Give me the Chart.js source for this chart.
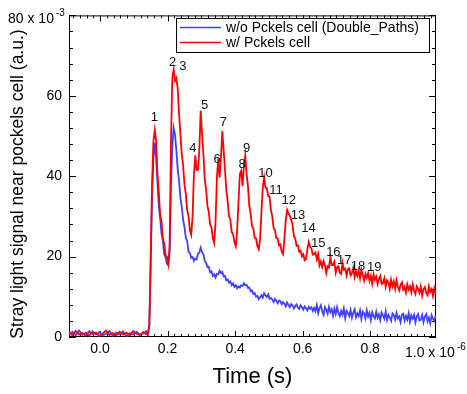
<!DOCTYPE html>
<html><head><meta charset="utf-8">
<script src="https://cdn.jsdelivr.net/npm/chart.js@4"></script>
<style>html,body{margin:0;padding:0;background:#fff}</style>
</head><body>
<canvas id="c" width="467" height="394" style="display:block"></canvas>
<script>
// ---- DATA (time in 1e-6 s, signal in 1e-3 a.u.) ----
const timeUs = [
  -0.092,-0.082,-0.072,-0.062,-0.052,-0.042,-0.032,-0.022,-0.012,-0.002,
  0.008,0.018,0.028,0.038,0.048,0.058,0.068,0.078,0.088,0.098,
  0.108,0.118,0.128,0.136,0.142,
  0.146,0.150,0.154,0.158,0.162,0.166,0.170,0.174,0.178,0.182,
  0.186,0.190,0.194,0.198,0.202,0.206,0.210,0.214,0.218,0.222,
  0.226,0.230,0.234,0.238,0.242,0.246,0.250,0.254,0.258,0.262,
  0.266,0.270,0.274,0.278,0.282,0.286,0.290,0.294,0.298,0.302,
  0.306,0.310,0.314,0.318,0.322,0.326,0.330,0.334,0.338,0.342,
  0.346,0.350,0.354,0.358,0.362,0.366,0.370,0.374,0.378,0.382,
  0.386,0.390,0.394,0.398,0.402,0.406,0.410,0.414,0.418,0.422,
  0.426,0.430,0.434,0.438,0.442,0.446,0.450,0.454,0.458,0.462,
  0.466,0.470,0.474,0.478,0.482,0.486,0.490,0.494,0.498,0.502,
  0.506,0.510,0.514,0.518,0.522,0.526,0.530,0.534,0.538,0.542,
  0.546,0.550,0.554,0.558,0.562,0.566,0.570,0.574,0.578,0.582,
  0.586,0.590,0.594,0.598,0.602,0.606,0.610,0.614,0.618,0.622,
  0.626,0.630,0.634,
  0.638,0.642,0.646,0.650,0.654,0.658,0.662,0.666,0.670,0.674,
  0.678,0.682,0.686,0.690,0.694,0.698,0.702,0.706,0.710,0.714,
  0.718,0.722,0.726,0.730,0.734,0.738,0.742,0.746,0.750,0.754,
  0.758,0.762,0.766,0.770,0.774,0.778,0.782,0.786,0.790,0.794,
  0.798,0.802,0.806,0.810,0.814,0.818,0.822,0.826,0.830,0.834,
  0.838,0.842,0.846,0.850,0.854,0.858,0.862,0.866,0.870,0.874,
  0.878,0.882,0.886,0.890,0.894,0.898,0.902,0.906,0.910,0.914,
  0.918,0.922,0.926,0.930,0.934,0.938,0.942,0.946,0.950,0.954,
  0.958,0.962,0.966,0.970,0.974,0.978,0.982,0.986,0.990,0.994
];
const withCell = [
  1.2,0.4,1.5,0.6,1.0,0.3,1.4,0.7,1.1,0.2,
  0.9,1.6,0.5,1.0,0.4,1.3,0.6,1.1,0.3,1.5,
  0.8,0.5,1.2,0.7,1.0,
  3,20,38,48.6,51.5,48.8,40.6,35.9,30.4,28.8,
  24.4,23.2,20.5,19.8,18.1,22.5,48,64.5,66.6,63.7,
  64.4,61.8,55.5,50.6,45.4,42.7,37.9,35.6,31.5,30.1,
  26.6,25.4,30,40.5,45.2,41.5,41.6,46.5,56.3,50.5,
  45.6,39.4,36.7,32.6,31.1,28,27.2,24.6,23.4,28.5,
  39.5,44.4,39.6,44.5,51.2,46.5,41.6,36.5,33.7,30,
  29.1,26.1,25.6,23.6,22.6,26.4,33.6,40.5,41.3,37.6,
  42.5,45.1,40.5,37.6,32.7,30.6,27.6,27,24.6,24.5,
  22.6,21.8,24.4,31,37.3,39.7,37.1,37,35.1,34.9,
  31.6,30,27.1,26.5,24.6,24.5,22.8,23,21.2,20.6,
  24.4,29,31.6,30.7,30.2,29.1,28,25.1,24.5,22.7,
  22.8,21.2,21.5,20.1,20.6,19.1,19.4,21.8,23.6,22.5,
  22,20.5,20.6,
  21.0,19.3,20.6,17.8,18.8,17.4,18.9,17.9,15.9,17.6,
  17.3,19.8,17.9,17.9,18.7,16.0,17.4,17.6,16.0,15.7,
  18.4,16.7,17.0,15.3,16.9,17.1,15.3,15.8,17.2,14.9,
  16.4,15.2,16.5,14.6,16.7,15.4,14.0,15.7,14.7,15.9,
  14.0,15.2,13.2,15.6,14.2,15.0,13.2,14.4,15.2,13.2,
  13.4,14.6,12.5,14.1,13.6,12.0,14.2,12.6,13.8,12.0,
  14.1,12.5,11.6,13.0,13.6,11.8,12.5,11.0,13.1,11.8,
  12.6,11.1,13.1,11.5,10.7,12.6,12.0,11.0,12.6,10.3,
  11.9,12.4,11.0,10.4,12.6,11.2,11.9,10.2,12.1,10.7
];
const withoutCell = [
  0.6,1.3,0.4,1.6,0.5,1.1,0.3,1.4,0.6,1.2,
  0.4,0.8,1.5,0.3,1.1,0.6,1.4,0.2,1.0,0.6,
  1.3,0.5,0.9,1.4,0.6,
  3,18,35,44.5,48.3,44.6,38.4,32.6,29.5,25.7,
  24,20.6,19.9,18.2,17.9,21,37,47.5,52,50.3,
  46.4,41.7,38.9,34.6,32.4,29.1,27.4,24.7,23.9,21.2,
  20.9,19.7,19.9,18.9,19.5,19.3,20.7,21,22.2,21.1,
  20.6,18.9,18.5,17.4,17.5,16.1,16.3,15.2,15.6,14.8,
  15.7,15.6,16.5,15.9,16.2,15.1,15.2,14.1,14.3,13.5,
  13.8,12.9,13.3,12.5,12.9,12.1,12.6,12.3,12.9,12.7,
  13.4,12.9,13,12.2,12.3,11.4,11.6,10.7,10.9,10,
  10.2,9.4,9.9,10.4,9.8,10.9,10.3,9.9,10.6,9.5,
  9.7,9.3,8.7,9.5,9.0,8.4,9.1,8.9,8.1,8.7,
  8.3,7.6,8.6,8.0,7.4,8.2,7.9,7.1,7.7,8.1,
  7.3,7.0,7.9,7.4,6.8,7.6,7.2,6.6,7.5,7.0,
  7.4,6.5,7.2,
  6.4,7.9,5.9,7.2,7.9,6.4,5.5,7.4,6.8,5.8,
  7.5,6.2,6.9,5.3,7.1,5.7,7.4,6.0,5.2,6.5,
  5.5,7.1,4.7,6.5,6.0,5.2,6.7,4.8,6.1,6.9,
  4.9,5.9,5.2,6.6,4.5,6.3,5.9,4.6,6.6,5.1,
  6.0,4.2,6.2,5.2,4.6,6.3,4.8,5.6,4.2,6.1,
  5.4,4.6,6.4,4.2,5.5,4.8,4.0,5.9,5.5,4.3,
  6.0,4.6,5.1,3.7,5.6,5.8,4.1,5.2,4.3,5.9,
  3.8,5.4,4.6,5.5,3.6,5.1,5.7,4.1,4.3,5.5,
  3.7,5.1,5.7,3.9,4.8,3.4,5.4,4.5,4.0,5.3
];
const seriesNames = ['w/o Pckels cell (Double_Paths)', 'w/ Pckels cell'];
const xTickVals = [0, 0.2, 0.4, 0.6, 0.8];
const yTickVals = [0, 20, 40, 60, 80];
const peakText = ['1','2','3','4','5','6','7','8','9','10','11','12','13','14','15','16','17','18','19'];
const peakT = [0.161,0.215,0.245,0.275,0.310,0.347,0.365,0.421,0.434,0.490,0.521,0.559,0.586,0.617,0.646,0.691,0.723,0.764,0.812];
const peakV = [54.6,68.4,67.2,47.0,57.6,44.2,53.4,42.9,46.9,40.7,36.5,33.9,30.3,26.9,23.4,21.1,19.0,17.6,17.2];

// ---- CHART ----
const FONT = "'Liberation Sans', Arial, Helvetica, sans-serif";
Chart.defaults.font.family = FONT;
Chart.defaults.color = '#000';
const BLUE = '#4040ff', RED = '#ff0000';

const decor = {
  id: 'decor',
  beforeDatasetsDraw(chart) {
    const {ctx, chartArea: a, scales: {x, y}} = chart;
    ctx.save();
    ctx.strokeStyle = '#000'; ctx.lineWidth = 1;
    ctx.strokeRect(a.left + 0.5, a.top + 0.5, a.right - a.left - 1, a.bottom - a.top - 1);
    ctx.beginPath();
    for (let k = -5; k <= 50; k++) {
      const v = k * 0.02;
      if (v < x.min || v > x.max) continue;
      const px = Math.round(x.getPixelForValue(v)) + 0.5;
      const len = (k % 10 === 0) ? 6 : 3;
      ctx.moveTo(px, a.bottom); ctx.lineTo(px, a.bottom - len);
      ctx.moveTo(px, a.top); ctx.lineTo(px, a.top + len);
    }
    for (let k = 0; k <= 20; k++) {
      const v = k * 4;
      const py = Math.round(y.getPixelForValue(v)) + 0.5;
      const len = (k % 5 === 0) ? 7 : 4;
      ctx.moveTo(a.left, py); ctx.lineTo(a.left + len, py);
      ctx.moveTo(a.right, py); ctx.lineTo(a.right - len, py);
    }
    ctx.stroke();
    ctx.restore();
  },
  afterDatasetsDraw(chart) {
    const {ctx, chartArea: a, scales: {x, y}} = chart;
    ctx.save();
    // peak numbers
    ctx.fillStyle = '#111';
    ctx.font = '13px ' + FONT;
    ctx.textAlign = 'center'; ctx.textBaseline = 'middle';
    peakText.forEach((t, i) => ctx.fillText(t, x.getPixelForValue(peakT[i]), y.getPixelForValue(peakV[i])));
    // legend box
    const lx = 176, ly = 18, lw = 253, lh = 34;
    ctx.fillStyle = '#fff'; ctx.fillRect(lx, ly, lw, lh);
    ctx.strokeStyle = '#000'; ctx.lineWidth = 1;
    ctx.strokeRect(lx + 0.5, ly + 0.5, lw, lh);
    const ds = chart.data.datasets;
    const rows = [ds[0], ds[1]];
    rows.forEach((d, i) => {
      const yy = 27.5 + i * 15;
      ctx.strokeStyle = d.borderColor; ctx.lineWidth = 1.4;
      ctx.beginPath(); ctx.moveTo(180, yy); ctx.lineTo(221, yy); ctx.stroke();
      ctx.fillStyle = '#000'; ctx.font = '14px ' + FONT;
      ctx.textAlign = 'left'; ctx.textBaseline = 'middle';
      ctx.fillText(d.label, 226, yy + 0.5);
    });
    ctx.restore();
  },
  afterDraw(chart) {
    const {ctx, chartArea: a} = chart;
    ctx.save();
    ctx.fillStyle = '#000';
    ctx.textBaseline = 'middle'; ctx.textAlign = 'left';
    ctx.font = '14px ' + FONT;
    ctx.fillText('80 x 10', 8, 19);
    ctx.font = '10px ' + FONT;
    ctx.fillText('-3', 56, 13);
    ctx.font = '14px ' + FONT;
    ctx.fillText('1.0 x 10', 405, 353);
    ctx.font = '10px ' + FONT;
    ctx.fillText('-6', 457, 347);
    ctx.textAlign = 'center';
    ctx.font = '22px ' + FONT;
    ctx.fillText('Time (s)', (a.left + a.right) / 2, 377);
    ctx.translate(18, 184);
    ctx.rotate(-Math.PI / 2);
    ctx.font = '17.5px ' + FONT;
    ctx.fillText('Stray light signal near pockels cell (a.u.)', 0, 0);
    ctx.restore();
  }
};

const mk = (vals) => timeUs.map((t, i) => ({x: t, y: vals[i]}));
new Chart(document.getElementById('c').getContext('2d'), {
  type: 'line',
  data: {
    datasets: [
      {label: seriesNames[0], data: mk(withoutCell), borderColor: BLUE, borderWidth: 1.8, pointRadius: 0, tension: 0, order: 1},
      {label: seriesNames[1], data: mk(withCell), borderColor: RED, borderWidth: 1.8, pointRadius: 0, tension: 0, order: 0}
    ]
  },
  options: {
    responsive: false, animation: false, devicePixelRatio: 1,
    layout: {padding: {left: 0, right: 31, top: 15, bottom: 0}},
    plugins: {legend: {display: false}, tooltip: {enabled: false}},
    scales: {
      x: {
        type: 'linear', min: -0.092, max: 0.995,
        afterBuildTicks: s => { s.ticks = xTickVals.map(v => ({value: v})); },
        afterFit: s => { s.height = 57; },
        grid: {display: false, drawTicks: false}, border: {display: false},
        ticks: {padding: 4, font: {size: 14}, maxRotation: 0, autoSkip: false, callback: v => Number(v).toFixed(1)}
      },
      y: {
        type: 'linear', min: 0, max: 80,
        afterBuildTicks: s => { s.ticks = yTickVals.map(v => ({value: v})); },
        afterFit: s => { s.width = 69; },
        grid: {display: false, drawTicks: false}, border: {display: false},
        ticks: {padding: 7, font: {size: 14}, callback: v => v === 80 ? '' : String(v)}
      }
    }
  },
  plugins: [decor]
});
</script>
</body></html>
